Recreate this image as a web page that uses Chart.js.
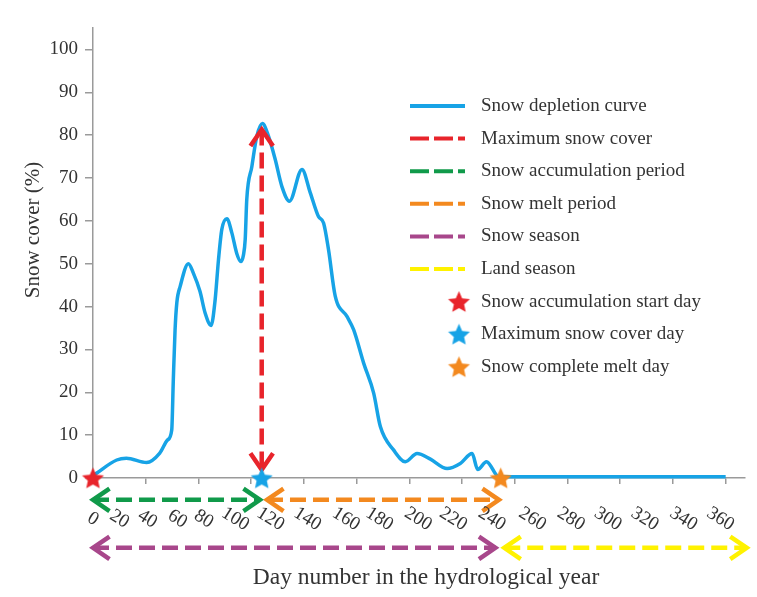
<!DOCTYPE html>
<html>
<head>
<meta charset="utf-8">
<script src="https://cdn.jsdelivr.net/npm/chart.js@4/dist/chart.umd.min.js"></script>
<style>
  body { margin: 0; background: #fff; }
</style>
</head>
<body>
<canvas id="chart" width="757" height="597"></canvas>
<script>
// snow depletion curve
var days  = [0, 2, 13.5, 19, 30.5, 38, 42.5, 44.8, 45.7, 46.7, 47.7, 49.6, 54.3, 57.1, 60.9, 63.8, 67.2, 69.5, 71.4, 73.3, 76.2, 79, 81.8, 84.1, 85.6, 86.6, 87.5, 90.4, 93.2, 96.4, 99.9, 103.7, 107.5, 111.8, 118.9, 123.6, 128.3, 131.2, 134, 137.8, 144.5, 148.3, 154, 159.7, 163.5, 171.1, 177.7, 184.4, 192, 201.5, 209, 215.7, 218.9, 223.9, 230.9, 260, 300, 360];
var cover = [0.5, 1.1, 4.2, 4.6, 3.6, 5.8, 8.9, 11.2, 22.9, 34.6, 40.9, 44.7, 50, 47.8, 43.5, 38.5, 35.6, 41.6, 50.9, 58, 60.5, 57.2, 52.4, 50.5, 52, 55.6, 65, 72.7, 79.7, 82.7, 79.7, 74.3, 68, 64.6, 72, 66.6, 61, 59.5, 53.3, 42.5, 37.7, 34.6, 26.8, 19.8, 12, 6.5, 3.8, 5.7, 4.4, 2.2, 3.4, 5.7, 2, 3.8, 0.3, 0.3, 0.3, 0.3];

// key days
var startDay = 0;
var maxDay = 96;
var meltDay = 232;

// arrows: [from, to]
var maxCoverArrow = [81.3, 1.9];
var accumPeriod = [0, 95];
var meltPeriod = [99, 231];
var snowSeason = [0, 229];
var landSeason = [234, 372];
var arrowRows = [-5.1, -16.3];

// x tick labels and where the figure puts them (in days)
var tickLabels = ['0', '20', '40', '60', '80', '100', '120', '140', '160', '180', '200', '220', '240', '260', '280', '300', '320', '340', '360'];
var tickLabelPos = [0, 15, 31, 48, 63, 81, 101, 122, 144, 163, 185, 205, 227, 250, 272, 293, 314, 336, 357];

var txt = '#333';
var serif = '"Liberation Serif", "Times New Roman", serif';

function makeStar(color, r) {
  var c = document.createElement('canvas');
  c.width = c.height = Math.ceil(r * 2 + 2);
  var g = c.getContext('2d');
  g.translate(c.width / 2, c.height / 2 + 1);
  g.beginPath();
  for (var i = 0; i < 10; i++) {
    var rr = i % 2 ? r * 0.47 : r;
    var a = -Math.PI / 2 + i * Math.PI / 5;
    g.lineTo(rr * Math.cos(a), rr * Math.sin(a));
  }
  g.closePath();
  g.fillStyle = color;
  g.fill();
  return c;
}

function arrowLine(label, color, xs, ys) {
  return {
    label: label,
    data: [{ x: xs[0], y: ys[0] }, { x: xs[1], y: ys[1] }],
    borderColor: color,
    borderWidth: 4.5,
    borderDash: [16, 7],
    pointRadius: 0,
    arrow: true,
    clip: false,
    order: 2
  };
}

function starPoint(label, color, day) {
  return {
    label: label,
    data: [{ x: day, y: 0 }],
    showLine: false,
    pointStyle: makeStar(color, 11.5),
    pointRadius: 11,
    borderColor: color,
    backgroundColor: color,
    clip: false,
    order: 1
  };
}

function chevron(ctx, from, tip) {
  var ang = Math.atan2(tip.y - from.y, tip.x - from.x);
  var len = 20, spread = 0.6;
  ctx.beginPath();
  ctx.moveTo(tip.x - len * Math.cos(ang - spread), tip.y - len * Math.sin(ang - spread));
  ctx.lineTo(tip.x, tip.y);
  ctx.lineTo(tip.x - len * Math.cos(ang + spread), tip.y - len * Math.sin(ang + spread));
  ctx.stroke();
}

var arrowHeads = {
  id: 'arrowHeads',
  afterDatasetDraw: function (chart, args) {
    var ds = chart.data.datasets[args.index];
    if (!ds.arrow) return;
    var pts = args.meta.data;
    var a = pts[0], b = pts[pts.length - 1];
    var ctx = chart.ctx;
    ctx.save();
    ctx.strokeStyle = ds.borderColor;
    ctx.lineWidth = ds.borderWidth;
    ctx.setLineDash([]);
    ctx.lineJoin = 'miter';
    chevron(ctx, b, a);
    chevron(ctx, a, b);
    ctx.restore();
  }
};

var extraText = {
  id: 'extraText',
  afterDraw: function (chart) {
    var ctx = chart.ctx, area = chart.chartArea, xs = chart.scales.x;
    ctx.save();
    // rotated x tick labels
    ctx.fillStyle = txt;
    ctx.font = '19px ' + serif;
    ctx.textAlign = 'center';
    ctx.textBaseline = 'middle';
    tickLabels.forEach(function (t, i) {
      ctx.save();
      ctx.translate(xs.getPixelForValue(tickLabelPos[i]), xs.top + 41);
      ctx.rotate(32 * Math.PI / 180);
      ctx.fillText(t, 0, 0);
      ctx.restore();
    });
    // axis titles
    ctx.save();
    ctx.font = '21px ' + serif;
    ctx.translate(area.left - 60, area.top + 202);
    ctx.rotate(-Math.PI / 2);
    ctx.fillText('Snow cover (%)', 0, 0);
    ctx.restore();
    ctx.font = '23.5px ' + serif;
    ctx.fillText('Day number in the hydrological year', (area.left + area.right) / 2 + 7, xs.bottom - 19);
    // legend
    var x0 = area.left + 317, y0 = area.top + 78, rowH = 32.6;
    chart.data.datasets.forEach(function (ds, i) {
      var y = y0 + i * rowH;
      if (ds.pointStyle instanceof HTMLCanvasElement) {
        var img = ds.pointStyle;
        ctx.drawImage(img, x0 + 49 - img.width / 2, y - img.height / 2);
      } else {
        ctx.save();
        ctx.strokeStyle = ds.borderColor;
        ctx.lineWidth = 4;
        ctx.setLineDash(ds.borderDash ? [19, 5] : []);
        ctx.beginPath();
        ctx.moveTo(x0, y);
        ctx.lineTo(x0 + 55, y);
        ctx.stroke();
        ctx.restore();
      }
      ctx.fillStyle = txt;
      ctx.font = '19px ' + serif;
      ctx.textAlign = 'left';
      ctx.fillText(ds.label, x0 + 71, y);
    });
    ctx.restore();
  }
};

var ctx = document.getElementById('chart').getContext('2d');
var chart = new Chart(ctx, {
  type: 'line',
  data: {
    datasets: [
      {
        label: 'Snow depletion curve',
        data: days.map(function (d, i) { return { x: d, y: cover[i] }; }),
        borderColor: '#17a3e6',
        borderWidth: 3.5,
        pointRadius: 0,
        cubicInterpolationMode: 'monotone',
        clip: false,
        order: 3
      },
      arrowLine('Maximum snow cover', '#e8242b', [maxDay, maxDay], maxCoverArrow),
      arrowLine('Snow accumulation period', '#109a4a', accumPeriod, [arrowRows[0], arrowRows[0]]),
      arrowLine('Snow melt period', '#f3891f', meltPeriod, [arrowRows[0], arrowRows[0]]),
      arrowLine('Snow season', '#a8478b', snowSeason, [arrowRows[1], arrowRows[1]]),
      arrowLine('Land season', '#fff200', landSeason, [arrowRows[1], arrowRows[1]]),
      starPoint('Snow accumulation start day', '#e8242b', startDay),
      starPoint('Maximum snow cover day', '#17a3e6', maxDay),
      starPoint('Snow complete melt day', '#f3891f', meltDay)
    ]
  },
  options: {
    responsive: false,
    animation: false,
    devicePixelRatio: 1,
    layout: { padding: { top: 28, right: 12, bottom: 0, left: 0 } },
    plugins: {
      legend: { display: false },
      tooltip: { enabled: false }
    },
    scales: {
      x: {
        type: 'linear',
        min: 0,
        max: 371,
        afterFit: function (s) { s.height = 119; },
        ticks: { display: false, stepSize: 30, includeBounds: false },
        grid: { drawOnChartArea: false, drawTicks: true, tickLength: 6, color: '#9a9a9a', lineWidth: 1.5 },
        border: { color: '#9a9a9a', width: 1.5 }
      },
      y: {
        min: 0,
        max: 105,
        afterFit: function (s) { s.width = 93; },
        ticks: { stepSize: 10, includeBounds: false, padding: 7, color: txt, font: { family: serif, size: 19 } },
        grid: { drawOnChartArea: false, drawTicks: true, tickLength: 8, color: '#9a9a9a', lineWidth: 1.5 },
        border: { color: '#9a9a9a', width: 1.5 }
      }
    }
  },
  plugins: [arrowHeads, extraText]
});
</script>
</body>
</html>
